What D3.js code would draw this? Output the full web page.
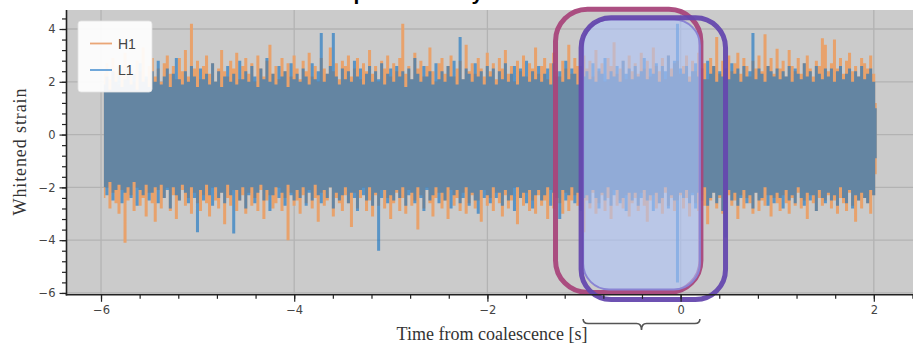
<!DOCTYPE html>
<html><head><meta charset="utf-8">
<script src="https://cdn.jsdelivr.net/npm/d3@7"></script>
<style>html,body{margin:0;padding:0;background:#fff;overflow:hidden}</style>
</head><body><svg id="c" width="913" height="344"></svg>
<script>
// ---------- data ----------
const seriesNames = ["H1", "L1"];
const tStart = -5.97;      // time of first sample bin [s]
const tStep = 0.03125;     // bin width [s]
// per-bin upper/lower envelope of the whitened strain
const h1High = [
 2.3,2.7,2.1,2.9,2.4,1.9,2.6,3.1,2.2,2.5,2.0,2.8,2.4,3.3,2.1,2.6,
 2.9,2.2,2.5,2.0,2.7,3.0,2.3,2.6,2.1,2.9,2.4,3.2,2.2,4.2,2.5,2.8,
 2.1,2.6,3.0,2.3,2.7,2.0,2.5,3.2,2.4,2.2,2.8,2.5,3.1,2.1,2.6,2.9,
 2.3,2.7,2.0,3.0,2.5,2.2,2.8,3.4,2.3,2.6,2.1,2.9,2.4,2.7,2.2,3.0,
 2.5,2.1,2.8,2.4,3.1,2.2,2.6,2.0,2.9,2.5,2.3,3.3,2.4,2.7,2.1,2.8,
 2.6,3.0,2.2,2.5,2.9,2.1,2.7,2.4,3.2,2.3,2.6,2.0,2.8,2.5,3.0,2.2,
 2.7,2.4,2.9,4.2,2.3,2.6,2.1,3.1,2.5,2.8,2.2,2.6,3.3,2.4,2.0,2.7,
 2.9,2.3,2.6,3.0,2.2,2.5,2.8,2.1,3.4,2.4,2.7,2.3,2.9,2.5,2.2,3.1,
 2.4,2.7,2.1,2.9,2.5,3.2,2.3,2.6,2.0,2.8,2.4,3.0,2.2,2.7,2.5,3.3,
 2.3,2.6,2.9,2.1,2.7,3.1,2.4,2.2,2.8,2.5,3.4,2.3,2.9,2.6,2.2,3.0,
 2.5,2.8,2.2,3.2,2.4,2.7,2.0,2.9,2.6,3.5,2.3,2.5,2.8,2.1,3.0,2.4,
 2.7,2.3,3.1,2.5,2.8,2.2,3.3,2.6,2.4,2.9,2.1,3.0,2.5,2.7,2.8,2.3,
 2.6,3.0,2.2,2.8,2.4,3.1,2.5,2.7,2.1,2.9,2.6,3.7,2.3,2.8,2.5,3.0,
 2.4,2.7,3.1,2.3,2.9,2.6,2.2,2.8,2.5,3.0,2.4,3.8,2.6,2.9,2.3,3.25,
 2.5,2.8,2.2,3.2,2.6,2.4,2.9,2.3,2.7,3.0,2.5,2.2,2.8,2.6,3.65,3.4,
 2.4,2.7,3.6,2.5,2.9,2.3,2.8,3.1,2.4,2.6,2.2,2.9,2.7,2.5,3.0,2.3,
 1.2];
const h1Low = [
 -2.4,-2.0,-2.8,-2.2,-2.6,-3.0,-2.1,-4.1,-2.5,-2.3,-2.9,-2.0,-2.7,-2.4,-3.1,-2.2,
 -2.6,-3.3,-2.1,-2.8,-2.4,-2.0,-2.9,-2.3,-3.2,-2.5,-2.1,-2.7,-2.4,-3.0,-2.2,-2.6,
 -2.9,-2.3,-2.6,-3.1,-2.0,-2.5,-2.8,-2.2,-3.4,-2.4,-2.7,-2.1,-2.9,-2.5,-2.3,-3.0,
 -2.2,-2.7,-2.4,-2.9,-2.1,-3.2,-2.5,-2.3,-2.8,-2.6,-2.0,-2.9,-2.4,-4.0,-2.2,-2.7,
 -2.5,-3.0,-2.3,-2.6,-2.1,-2.8,-2.4,-3.3,-2.2,-2.7,-2.5,-2.0,-3.1,-2.4,-2.6,-2.9,
 -2.3,-2.6,-3.5,-2.2,-2.8,-2.4,-2.0,-2.9,-2.5,-3.1,-2.3,-2.7,-2.1,-2.8,-2.4,-3.2,
 -2.6,-2.2,-2.9,-2.4,-3.0,-2.1,-2.7,-2.5,-3.6,-2.3,-2.8,-2.0,-2.6,-3.1,-2.4,-2.2,
 -2.8,-2.5,-3.2,-2.1,-2.7,-2.4,-2.9,-2.2,-3.0,-2.6,-2.3,-2.8,-2.5,-3.3,-2.1,-2.7,
 -2.4,-2.9,-2.2,-2.6,-3.1,-2.3,-2.8,-2.5,-2.0,-3.4,-2.4,-2.7,-2.2,-2.9,-2.5,-3.0,
 -2.3,-2.7,-2.5,-3.2,-2.1,-2.8,-2.4,-2.6,-3.0,-2.2,-2.9,-2.5,-2.3,-2.7,-2.4,-3.7,
 -2.5,-2.8,-2.2,-3.0,-2.6,-2.3,-2.9,-2.4,-3.2,-2.1,-2.7,-2.5,-2.8,-2.3,-3.1,-2.6,
 -2.4,-2.9,-2.2,-2.7,-3.3,-2.5,-2.3,-2.8,-2.6,-3.0,-2.2,-2.7,-2.4,-2.9,-2.5,-2.3,
 -2.8,-2.4,-3.1,-2.2,-2.6,-2.9,-2.3,-2.7,-3.4,-2.5,-2.2,-2.8,-2.4,-3.0,-2.6,-2.3,
 -2.7,-2.5,-3.2,-2.3,-2.8,-2.4,-2.6,-3.0,-2.2,-2.9,-2.5,-2.7,-2.3,-3.1,-2.4,-2.6,
 -2.9,-2.3,-2.6,-3.0,-2.4,-2.7,-2.2,-2.8,-2.5,-3.2,-2.3,-2.6,-2.9,-2.4,-2.7,-2.5,
 -2.3,-2.8,-2.5,-3.0,-2.4,-2.6,-2.9,-2.2,-2.7,-3.3,-2.5,-2.8,-2.4,-2.6,-3.0,-2.3,
 -1.5];
const l1High = [
 1.9,2.2,1.7,2.4,2.0,2.6,1.8,2.1,2.5,1.9,2.3,1.7,2.7,2.0,2.2,1.8,
 2.4,2.0,2.8,1.9,2.2,2.5,1.8,2.3,2.9,2.1,1.9,2.4,2.0,2.6,2.2,1.8,
 2.5,2.1,2.3,1.9,2.7,2.0,2.4,1.8,2.2,2.6,2.0,2.3,1.9,2.8,2.1,2.4,
 2.0,2.6,2.2,1.8,2.5,2.1,2.9,2.0,2.3,1.9,2.6,2.2,2.4,1.8,2.7,2.1,
 2.3,2.0,2.5,2.2,1.9,2.7,2.1,2.4,3.85,2.0,2.3,2.6,3.85,2.2,1.9,2.5,
 2.1,2.4,2.0,2.8,2.2,2.5,1.9,2.3,2.6,2.0,2.4,2.1,2.7,1.9,2.3,2.5,
 2.0,2.6,2.2,2.4,1.8,2.5,2.1,2.9,2.3,2.0,2.6,2.2,2.4,1.9,2.7,2.1,
 2.4,2.0,2.6,2.2,2.8,1.9,3.7,2.1,2.5,2.3,2.0,2.7,2.2,2.4,1.9,2.6,
 2.2,2.5,1.9,2.4,2.1,2.7,2.0,2.3,2.6,1.9,2.5,2.2,2.8,2.0,2.4,2.1,
 2.6,2.0,2.3,2.5,1.9,2.7,2.2,2.4,2.0,2.8,2.1,2.5,2.3,1.9,2.6,2.2,
 2.4,2.1,2.7,2.0,2.5,2.3,2.9,2.1,2.4,2.2,2.6,2.0,2.8,2.3,2.5,2.1,
 2.6,2.2,2.4,2.9,2.1,2.5,2.3,2.7,2.0,2.6,2.4,3.0,2.2,2.8,4.2,2.5,
 2.3,2.6,2.0,2.4,2.7,2.2,2.5,2.1,2.8,2.3,2.6,2.0,2.4,2.2,2.5,2.1,
 2.7,2.3,2.5,2.0,2.6,2.2,2.4,3.85,2.1,2.5,2.3,2.0,2.6,2.4,2.2,2.5,
 2.1,2.4,2.2,2.6,2.0,2.5,2.3,2.1,2.7,2.2,2.4,2.0,2.6,2.3,2.1,2.5,
 2.2,2.5,2.0,2.4,2.6,2.1,2.3,2.5,2.0,2.4,2.2,2.6,2.1,2.3,2.5,2.0,
 1.0];
const l1Low = [
 -2.0,-2.3,-1.8,-2.5,-2.1,-1.9,-2.6,-2.2,-2.0,-2.4,-1.8,-2.7,-2.1,-2.3,-1.9,-2.5,
 -2.2,-2.0,-2.6,-1.9,-2.4,-2.1,-2.8,-2.0,-2.3,-2.5,-1.9,-2.2,-2.6,-2.0,-2.4,-3.7,
 -2.1,-2.5,-1.9,-2.3,-2.7,-2.0,-2.4,-2.2,-2.6,-1.9,-2.3,-3.75,-2.1,-2.5,-2.0,-2.8,
 -2.3,-2.0,-2.6,-2.2,-1.9,-2.5,-2.1,-2.9,-2.3,-2.0,-2.4,-2.2,-2.7,-1.9,-2.3,-2.5,
 -2.1,-2.4,-2.0,-2.7,-2.2,-2.5,-1.9,-2.3,-2.6,-2.1,-2.4,-2.0,-2.8,-2.2,-2.5,-2.3,
 -2.0,-2.6,-2.2,-2.4,-2.9,-2.1,-2.3,-2.5,-2.0,-2.7,-2.2,-4.4,-2.4,-2.1,-2.6,-2.3,
 -2.5,-2.1,-2.4,-2.0,-2.7,-2.3,-2.2,-2.6,-2.0,-2.4,-2.9,-2.1,-2.5,-2.3,-2.0,-2.6,
 -2.2,-2.5,-2.0,-2.8,-2.3,-2.1,-2.6,-2.4,-2.0,-2.7,-2.2,-2.5,-3.0,-2.1,-2.4,-2.3,
 -2.6,-2.0,-2.4,-2.2,-2.7,-2.1,-2.5,-2.3,-2.9,-2.0,-2.4,-2.2,-2.6,-2.1,-2.8,-2.3,
 -2.1,-2.5,-2.3,-2.0,-2.7,-2.2,-2.4,-3.2,-2.1,-2.5,-2.3,-2.0,-2.6,-2.2,-2.9,-2.4,
 -2.3,-2.6,-2.1,-2.4,-2.8,-2.2,-2.5,-2.0,-2.7,-2.3,-2.1,-2.6,-2.4,-2.9,-2.2,-2.5,
 -2.2,-2.7,-2.4,-2.1,-2.5,-2.3,-2.9,-2.2,-2.6,-2.4,-2.0,-2.8,-2.3,-2.5,-5.6,-2.2,
 -2.4,-2.1,-2.6,-2.3,-2.8,-2.2,-2.5,-2.0,-2.7,-2.4,-2.2,-2.6,-2.3,-2.9,-3.9,-2.1,
 -2.5,-2.2,-2.7,-2.4,-2.1,-2.6,-2.3,-2.8,-2.2,-2.5,-2.4,-2.0,-2.7,-2.3,-2.6,-2.2,
 -2.4,-2.8,-2.1,-2.5,-2.3,-2.6,-2.0,-2.4,-2.7,-2.2,-2.5,-2.3,-2.9,-2.1,-2.4,-2.6,
 -2.2,-2.5,-2.3,-2.7,-2.0,-2.4,-2.6,-2.1,-2.8,-2.3,-2.5,-2.2,-2.4,-2.6,-2.1,-2.3,
 -0.9];
const xTickValues = [-6, -4, -2, 0, 2];
const yTickValues = [-6, -4, -2, 0, 2, 4];
// two overlapping analysis windows [s] and their vertical extent (strain units)
const windowStart = [-1.295, -1.03];
const windowEnd = [0.21, 0.465];
const windowBottom = [-5.98, -6.25];
const windowTop = [4.75, 4.43];
const titleText = "Temporal locality window";
const xLabel = "Time from coalescence [s]";
const yLabel = "Whitened strain";

// ---------- layout ----------
const W = 913, H = 344;
const L = 67, R = 917, T = 10, B = 294;
const svg = d3.select("#c");
const x = d3.scaleLinear().domain([-6.352, 2.447]).range([L, R]);
const y = d3.scaleLinear().domain([-6.04, 4.72]).range([B, T]);

const colH1 = "#e8a26c", colL1 = "rgb(20,115,195)", l1Alpha = 0.62;

// title (mostly above the picture, like the reference)
svg.append("text").attr("x", 312).attr("y", 0)
  .attr("font-family", "Liberation Sans, Arial, sans-serif").attr("font-weight", "bold")
  .attr("font-size", 21).attr("fill", "#000").text(titleText);

// plot background
svg.append("rect").attr("x", L).attr("y", T).attr("width", R - L).attr("height", B - T).attr("fill", "#cbcbcb");

// grid
const g = svg.append("g");
g.selectAll("line.gx").data(xTickValues).join("line")
  .attr("x1", d => x(d)).attr("x2", d => x(d)).attr("y1", T).attr("y2", B)
  .attr("stroke", "#b3b3b3").attr("stroke-width", 1.3);
g.selectAll("line.gy").data(yTickValues).join("line")
  .attr("x1", L).attr("x2", R).attr("y1", d => y(d)).attr("y2", d => y(d))
  .attr("stroke", "#b3b3b3").attr("stroke-width", 1.3);

// data
function rows(hi, lo) {
  const n = Math.min(hi.length, lo.length);
  return d3.range(n).map(i => ({ t: tStart + i * tStep, hi: hi[i], lo: lo[i] }));
}
const area = d3.area().x(d => x(d.t)).y0(d => y(d.lo)).y1(d => y(d.hi)).curve(d3.curveStep);
svg.append("path").datum(rows(h1High, h1Low)).attr("d", area).attr("fill", colH1);
svg.append("path").datum(rows(l1High, l1Low)).attr("d", area).attr("fill", colL1).attr("fill-opacity", l1Alpha);

// highlight windows
const wStroke = ["#a8467b", "#6548ae"];
// overlap fill
const ovS = d3.max(windowStart), ovE = d3.min(windowEnd);
svg.append("rect")
  .attr("x", x(windowStart[0])).attr("y", y(windowTop[0]))
  .attr("width", x(windowEnd[0]) - x(windowStart[0])).attr("height", y(windowBottom[0]) - y(windowTop[0]))
  .attr("rx", 32).attr("fill", "none").attr("stroke", wStroke[0]).attr("stroke-width", 5).attr("stroke-opacity", 0.95);
svg.append("rect")
  .attr("x", x(ovS) + 2).attr("y", y(4.36))
  .attr("width", x(ovE) - x(ovS) - 3).attr("height", y(-5.87) - y(4.36))
  .attr("rx", 26).attr("fill", "rgb(175,196,250)").attr("fill-opacity", 0.6)
  .attr("stroke", "#8a84d4").attr("stroke-width", 2);
svg.append("rect")
  .attr("x", x(windowStart[1])).attr("y", y(windowTop[1]))
  .attr("width", x(windowEnd[1]) - x(windowStart[1])).attr("height", y(windowBottom[1]) - y(windowTop[1]))
  .attr("rx", 30).attr("fill", "none").attr("stroke", wStroke[1]).attr("stroke-width", 5).attr("stroke-opacity", 0.95);

// axes
const xMinor = d3.range(-6, 2.41, 0.4).map(v => +v.toFixed(2));
const yMinor = d3.range(-6, 4.41, 0.4).map(v => +v.toFixed(2));
const xAxis = d3.axisBottom(x).tickValues(xTickValues).tickSize(7).tickPadding(4)
  .tickFormat(d => d3.format("")(d).replace("-", "\u2212"));
const xAxisMinor = d3.axisBottom(x).tickValues(xMinor).tickSize(4).tickFormat("");
const yAxis = d3.axisLeft(y).tickValues(yTickValues).tickSize(7).tickPadding(4)
  .tickFormat(d => d3.format("")(d).replace("-", "\u2212"));
const yAxisMinor = d3.axisLeft(y).tickValues(yMinor).tickSize(4.5).tickFormat("");

function styleAxis(sel) {
  sel.select(".domain").remove();
  sel.selectAll(".tick line").attr("stroke", "#222").attr("stroke-width", 1.2);
  sel.selectAll(".tick text").attr("font-family", "DejaVu Sans, sans-serif").attr("font-size", 11.5).attr("fill", "#444");
}
svg.append("g").attr("transform", `translate(0,${B + 0.8})`).call(xAxisMinor).call(styleAxis);
svg.append("g").attr("transform", `translate(0,${B + 0.8})`).call(xAxis).call(styleAxis);
svg.append("g").attr("transform", `translate(${L - 0.5},0)`).call(yAxisMinor).call(styleAxis);
svg.append("g").attr("transform", `translate(${L - 0.5},0)`).call(yAxis).call(styleAxis);
// spines
svg.append("line").attr("x1", L - 0.5).attr("x2", L - 0.5).attr("y1", T).attr("y2", B + 1.5).attr("stroke", "#222").attr("stroke-width", 1.6);
svg.append("line").attr("x1", L - 1.3).attr("x2", R).attr("y1", B + 0.8).attr("y2", B + 0.8).attr("stroke", "#222").attr("stroke-width", 1.6);

// axis labels
svg.append("text").attr("x", (L + R) / 2).attr("y", 340).attr("text-anchor", "middle")
  .attr("font-family", "Liberation Serif, Times New Roman, serif").attr("font-size", 18).attr("fill", "#333")
  .text(xLabel);
svg.append("text").attr("transform", `translate(26,${(T + B) / 2}) rotate(-90)`).attr("text-anchor", "middle")
  .attr("font-family", "Liberation Serif, Times New Roman, serif").attr("font-size", 18).attr("fill", "#333")
  .attr("textLength", 127).attr("lengthAdjust", "spacing")
  .text(yLabel);

// brace under the overlap
{
  const a = x(ovS) + 2, b = x(ovE) - 1, m = (a + b) / 2, yt = 319, yh = 323.5, yp = 330;
  const p = d3.path();
  p.moveTo(a, yt); p.quadraticCurveTo(a, yh, a + 5, yh); p.lineTo(m - 5, yh);
  p.quadraticCurveTo(m, yh, m, yp); p.quadraticCurveTo(m, yh, m + 5, yh);
  p.lineTo(b - 5, yh); p.quadraticCurveTo(b, yh, b, yt);
  svg.append("path").attr("d", p.toString()).attr("fill", "none").attr("stroke", "#555").attr("stroke-width", 1.6);
}

// legend
const lg = svg.append("g");
lg.append("rect").attr("x", 78).attr("y", 21).attr("width", 74).attr("height", 71).attr("rx", 3)
  .attr("fill", "#fff").attr("fill-opacity", 0.92).attr("stroke", "#e2e2e2").attr("stroke-width", 0.8);
const legCols = ["#eaa676", "#5f9ed6"];
seriesNames.forEach((nm, i) => {
  const yy = 43.5 + i * 26.5;
  lg.append("line").attr("x1", 90).attr("x2", 112).attr("y1", yy).attr("y2", yy).attr("stroke", legCols[i]).attr("stroke-width", 1.8);
  lg.append("text").attr("x", 118).attr("y", yy + 5).attr("font-family", "Liberation Sans, Arial, sans-serif")
    .attr("font-size", 14).attr("fill", "#444").text(nm);
});
</script></body></html>
